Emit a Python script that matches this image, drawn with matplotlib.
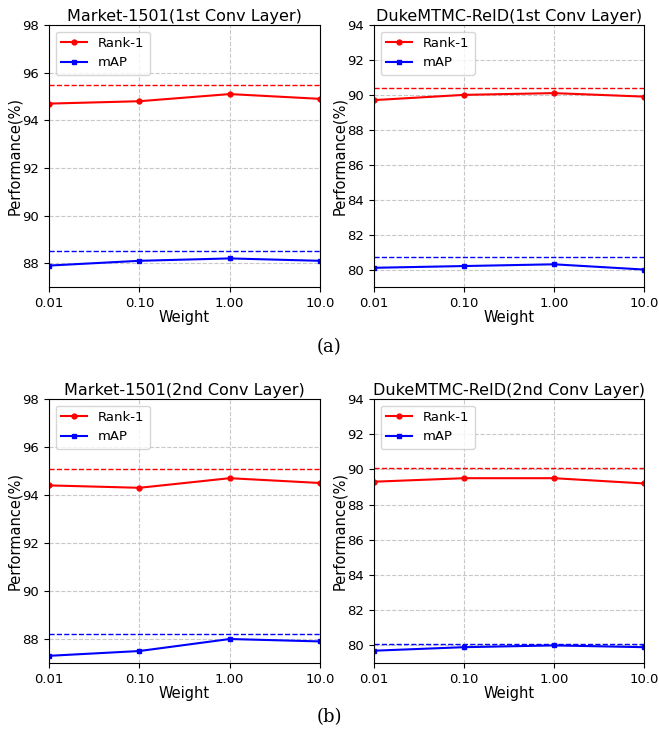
import matplotlib
matplotlib.use("Agg")
from matplotlib import pyplot as plt
from matplotlib.ticker import NullLocator

# Loss weights on the x axis.
weights = [0.01, 0.1, 1.0, 10.0]
weight_labels = ['0.01', '0.10', '1.00', '10.0']

# Market-1501, 1st conv layer.
m1_rank1 = [94.7, 94.8, 95.1, 94.9]
m1_map = [87.9, 88.1, 88.2, 88.1]
m1_base_rank1 = 95.5
m1_base_map = 88.5

# DukeMTMC-ReID, 1st conv layer.
d1_rank1 = [89.7, 90.0, 90.1, 89.9]
d1_map = [80.1, 80.2, 80.3, 80.0]
d1_base_rank1 = 90.4
d1_base_map = 80.7

# Market-1501, 2nd conv layer.
m2_rank1 = [94.4, 94.3, 94.7, 94.5]
m2_map = [87.3, 87.5, 88.0, 87.9]
m2_base_rank1 = 95.1
m2_base_map = 88.2

# DukeMTMC-ReID, 2nd conv layer.
d2_rank1 = [89.3, 89.5, 89.5, 89.2]
d2_map = [79.7, 79.9, 80.0, 79.9]
d2_base_rank1 = 90.1
d2_base_map = 80.1

titles = ['Market-1501(1st Conv Layer)', 'DukeMTMC-ReID(1st Conv Layer)',
          'Market-1501(2nd Conv Layer)', 'DukeMTMC-ReID(2nd Conv Layer)']


def draw(ax, title, rank1, mAP, base_rank1, base_map, ylim, yticks):
    ax.plot(weights, rank1, color='red', marker='o', markersize=3.5, linewidth=1.5, label='Rank-1')
    ax.plot(weights, mAP, color='blue', marker='s', markersize=3.5, linewidth=1.5, label='mAP')
    ax.axhline(base_rank1, color='red', linestyle='--', linewidth=1.0)
    ax.axhline(base_map, color='blue', linestyle='--', linewidth=1.0)
    ax.set_xscale('log')
    ax.set_xlim(0.01, 10.0)
    ax.set_xticks(weights)
    ax.set_xticklabels(weight_labels)
    ax.xaxis.set_minor_locator(NullLocator())
    ax.set_ylim(*ylim)
    ax.set_yticks(yticks)
    ax.tick_params(labelsize=9.5)
    ax.grid(True, linestyle='--', color='#c8c8c8', linewidth=0.8)
    ax.set_title(title, fontsize=11.5, pad=3)
    ax.set_xlabel('Weight', fontsize=10.5, labelpad=0)
    ax.set_ylabel('Performance(%)', fontsize=10.5, labelpad=0.5)
    ax.legend(loc='upper left', fontsize=9.5)


fig = plt.figure(figsize=(6.59, 7.29), dpi=100)

ax1 = fig.add_axes([0.0744, 0.6063, 0.4112, 0.3594])
ax2 = fig.add_axes([0.5675, 0.6063, 0.4097, 0.3594])
ax3 = fig.add_axes([0.0744, 0.0905, 0.4112, 0.3622])
ax4 = fig.add_axes([0.5675, 0.0905, 0.4097, 0.3622])

draw(ax1, titles[0], m1_rank1, m1_map, m1_base_rank1, m1_base_map, (87, 98), [88, 90, 92, 94, 96, 98])
draw(ax2, titles[1], d1_rank1, d1_map, d1_base_rank1, d1_base_map, (79, 94), [80, 82, 84, 86, 88, 90, 92, 94])
draw(ax3, titles[2], m2_rank1, m2_map, m2_base_rank1, m2_base_map, (87, 98), [88, 90, 92, 94, 96, 98])
draw(ax4, titles[3], d2_rank1, d2_map, d2_base_rank1, d2_base_map, (79, 94), [80, 82, 84, 86, 88, 90, 92, 94])

fig.text(0.5, 0.524, '(a)', ha='center', va='center', fontsize=13, family='DejaVu Serif')
fig.text(0.5, 0.016, '(b)', ha='center', va='center', fontsize=13, family='DejaVu Serif')

fig.savefig('out.png', dpi=100)
